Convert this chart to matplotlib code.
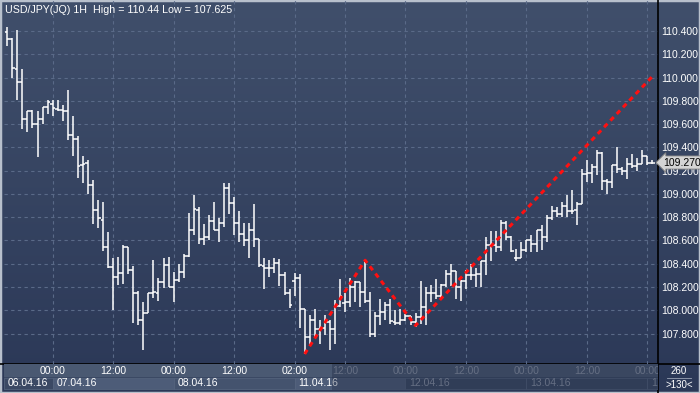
import numpy as np
import matplotlib
matplotlib.use("Agg")
import matplotlib.pyplot as plt
from matplotlib.patches import Rectangle

# hourly USD/JPY bars, 06.04.16 15:00 .. 13.04.16 23:00
opens = [110.39, 110.33, 110.07, 109.96, 109.64, 109.71, 109.60, 109.64, 109.75, 109.77,
         109.73, 109.72, 109.71, 109.51, 109.47, 109.25, 109.27, 109.08, 108.86, 108.78,
         108.54, 108.37, 108.29, 108.32, 108.54, 108.35, 108.15, 107.92, 107.98, 108.15,
         108.15, 108.24, 108.39, 108.20, 108.26, 108.33, 108.47, 108.69, 108.86, 108.61,
         108.63, 108.77, 108.69, 108.75, 109.05, 108.92, 108.75, 108.66, 108.60, 108.69,
         108.61, 108.38, 108.36, 108.36, 108.41, 108.30, 108.15, 108.25, 108.28, 108.01,
         107.77, 107.92, 107.84, 107.85, 107.90, 107.84, 108.04, 108.06, 108.07, 108.20,
         108.24, 108.16, 108.08, 107.80, 107.95, 107.99, 108.05, 107.90, 107.89, 107.92,
         107.95, 107.90, 107.94, 108.03, 108.15, 108.15, 108.12, 108.22, 108.31, 108.34,
         108.20, 108.25, 108.30, 108.30, 108.31, 108.42, 108.56, 108.56, 108.54, 108.75,
         108.63, 108.45, 108.45, 108.52, 108.60, 108.57, 108.69, 108.63, 108.79, 108.85,
         108.83, 108.90, 108.85, 108.86, 108.91, 109.17, 109.18, 109.23, 109.35, 109.11,
         109.10, 109.25, 109.21, 109.20, 109.26, 109.24, 109.26, 109.33, 109.27]
highs = [110.43, 110.34, 110.41, 110.07, 109.71, 109.72, 109.71, 109.75, 109.81, 109.81,
         109.81, 109.76, 109.89, 109.67, 109.50, 109.33, 109.29, 109.12, 108.95, 108.93,
         108.67, 108.45, 108.46, 108.56, 108.54, 108.38, 108.17, 108.07, 108.15, 108.43,
         108.28, 108.45, 108.46, 108.33, 108.40, 108.48, 108.84, 108.99, 108.89, 108.74,
         108.82, 108.93, 108.79, 109.09, 109.09, 108.97, 108.85, 108.75, 108.75, 108.91,
         108.61, 108.45, 108.43, 108.45, 108.44, 108.33, 108.18, 108.32, 108.31, 108.01,
         107.96, 108.01, 107.92, 107.96, 107.92, 108.09, 108.27, 108.15, 108.28, 108.25,
         108.24, 108.43, 108.16, 107.99, 108.10, 108.07, 108.10, 108.00, 108.01, 107.97,
         107.95, 107.98, 108.25, 108.20, 108.22, 108.27, 108.23, 108.35, 108.40, 108.34,
         108.26, 108.35, 108.40, 108.36, 108.42, 108.63, 108.68, 108.68, 108.78, 108.77,
         108.64, 108.53, 108.59, 108.60, 108.65, 108.69, 108.73, 108.82, 108.90, 108.89,
         108.93, 108.99, 109.03, 108.93, 109.21, 109.29, 109.26, 109.38, 109.36, 109.13,
         109.25, 109.40, 109.23, 109.31, 109.34, 109.31, 109.38, 109.33, 109.29]
lows = [110.27, 110.00, 109.81, 109.56, 109.53, 109.57, 109.32, 109.60, 109.69, 109.67,
        109.71, 109.63, 109.46, 109.33, 109.14, 109.09, 109.00, 108.74, 108.71, 108.51,
        108.36, 108.00, 108.22, 108.23, 108.31, 107.89, 107.87, 107.66, 107.98, 108.11,
        108.08, 108.19, 108.20, 108.07, 108.24, 108.28, 108.46, 108.65, 108.57, 108.56,
        108.60, 108.69, 108.59, 108.72, 108.83, 108.65, 108.59, 108.55, 108.45, 108.54,
        108.37, 108.18, 108.29, 108.32, 108.21, 108.13, 108.02, 108.12, 107.85, 107.625,
        107.70, 107.76, 107.71, 107.79, 107.66, 107.71, 108.03, 107.99, 108.03, 108.07,
        108.03, 108.06, 107.77, 107.77, 107.87, 107.92, 107.88, 107.87, 107.87, 107.91,
        107.87, 107.86, 107.88, 107.87, 108.07, 108.10, 108.10, 108.20, 108.21, 108.10,
        108.08, 108.18, 108.26, 108.20, 108.20, 108.30, 108.42, 108.50, 108.51, 108.60,
        108.50, 108.42, 108.45, 108.50, 108.50, 108.50, 108.52, 108.59, 108.78, 108.80,
        108.80, 108.80, 108.83, 108.73, 108.91, 109.10, 109.09, 109.16, 109.03, 109.00,
        109.05, 109.18, 109.16, 109.13, 109.22, 109.20, 109.26, 109.25, 109.26]
closes = [110.33, 110.08, 109.96, 109.64, 109.71, 109.60, 109.64, 109.75, 109.79, 109.74,
          109.72, 109.71, 109.51, 109.47, 109.24, 109.26, 109.08, 108.86, 108.79, 108.54,
          108.37, 108.29, 108.32, 108.54, 108.35, 108.15, 107.92, 107.98, 108.15, 108.16,
          108.24, 108.39, 108.20, 108.26, 108.33, 108.47, 108.69, 108.87, 108.61, 108.63,
          108.77, 108.69, 108.75, 109.05, 108.92, 108.75, 108.66, 108.60, 108.69, 108.61,
          108.39, 108.36, 108.36, 108.41, 108.30, 108.15, 108.05, 108.28, 108.01, 107.77,
          107.92, 107.84, 107.85, 107.90, 107.84, 108.04, 108.12, 108.07, 108.20, 108.24,
          108.16, 108.08, 107.80, 107.95, 107.99, 108.05, 107.91, 107.89, 107.92, 107.95,
          107.90, 107.94, 108.03, 108.15, 108.15, 108.12, 108.22, 108.31, 108.34, 108.20,
          108.25, 108.30, 108.30, 108.31, 108.42, 108.56, 108.56, 108.54, 108.75, 108.63,
          108.51, 108.45, 108.52, 108.60, 108.57, 108.69, 108.63, 108.79, 108.85, 108.83,
          108.90, 108.85, 108.85, 108.91, 109.17, 109.18, 109.23, 109.35, 109.11, 109.10,
          109.25, 109.21, 109.20, 109.26, 109.24, 109.26, 109.33, 109.27, 109.27]

# time axis: bar index of each label
time_idx = [9, 21, 33, 45, 57, 67, 79, 91, 103, 115, 127]
time_lbl = ["00:00", "12:00", "00:00", "12:00", "02:00", "12:00",
            "00:00", "12:00", "00:00", "12:00", "00:00"]
date_idx = [0, 9, 33, 57, 79, 103, 127]
date_lbl = ["06.04.16", "07.04.16", "08.04.16", "11.04.16", "12.04.16", "13.04.16", "14.04.16"]

# red dashed zig-zag / trend line (bar index, price)
trend_x = [59, 71, 81, 128]
trend_y = [107.625, 108.43, 107.87, 110.01]

price_ticks = [107.8, 108.0, 108.2, 108.4, 108.6, 108.8, 109.0, 109.2, 109.4,
               109.6, 109.8, 110.0, 110.2, 110.4]
last_price = 109.27

W, H = 700, 393
FONT = "Liberation Sans"
GRID = "#5a6a88"
WHITE = "#ffffff"

fig = plt.figure(figsize=(W / 100, H / 100), dpi=100)
fig.patch.set_facecolor("#2e3b59")

# background gradient over the whole window
bg = fig.add_axes([0, 0, 1, 1])
grad = np.linspace(0, 1, 256)[:, None]
top = np.array([0x40, 0x4f, 0x6b]) / 255
bot = np.array([0x2b, 0x38, 0x57]) / 255
img = top[None, None, :] * (1 - grad[:, :, None]) + bot[None, None, :] * grad[:, :, None]
bg.imshow(img, aspect="auto", extent=[0, 1, 0, 1])
bg.set_xlim(0, 1)
bg.set_ylim(0, 1)
bg.axis("off")

x_lo, x_hi = -0.65, 129.1
y_lo, y_hi = 107.539, 110.666

ax = fig.add_axes([4 / W, 29 / H, 654 / W, 364 / H])
ax.set_facecolor("none")
ax.set_xlim(x_lo, x_hi)
ax.set_ylim(y_lo, y_hi)

idx = np.arange(len(opens))
ax.vlines(idx, lows, highs, color=WHITE, lw=1.1, zorder=3)
ax.hlines(opens, idx - 0.5, idx, color=WHITE, lw=1.1, zorder=3)
ax.hlines(closes, idx, idx + 0.5, color=WHITE, lw=1.1, zorder=3)

ax.plot(trend_x, trend_y, color="#ff1010", lw=2.2, dashes=(1.6, 1.4), zorder=4)

# last price marker after final bar
ax.hlines(last_price, idx[-1] + 0.8, x_hi, color=WHITE, lw=1, linestyles=(0, (1, 1)), zorder=3)

ax.set_xticks(time_idx)
ax.set_xticklabels([])
ax.set_yticks(price_ticks)
ax.yaxis.tick_right()
ax.set_yticklabels(["%.3f" % p for p in price_ticks], fontsize=7.5, family=FONT, color=WHITE)
ax.tick_params(length=0, pad=2.5)
ax.tick_params(axis="x", length=0)
ax.grid(True, color=GRID, lw=0.8, linestyle=(0, (3, 3)))
for s in ax.spines.values():
    s.set_visible(False)

ax.text(0.002, 0.985, "USD/JPY(JQ) 1H  High = 110.44 Low = 107.625", transform=ax.transAxes,
        ha="left", va="top", fontsize=7.7, family=FONT, color=WHITE)

# price tag on the right scale
fig.text(663 / W, 1 - 162.5 / H, "%.3f" % last_price, ha="left", va="center", fontsize=7.5,
         family=FONT, color="black",
         bbox=dict(boxstyle="larrow,pad=0.15", fc="#d4d4d4", ec="#808080", lw=0.6))

# bottom time / date panel
bx = fig.add_axes([4 / W, 3 / H, 654 / W, 26 / H])
bx.set_xlim(x_lo, x_hi)
bx.set_ylim(0, 2)
bx.axis("off")
bx.add_patch(Rectangle((x_lo, 1), x_hi - x_lo, 1, fc="#4a5972", ec="none"))
bx.add_patch(Rectangle((x_lo, 0), x_hi - x_lo, 1, fc="#3b4964", ec="none"))
shade = ["#3b4964", "#4d5c78", "#44536e", "#4d5c78", "#3b4964", "#3b4964", "#3b4964"]
for k, (d, lbl) in enumerate(zip(date_idx, date_lbl)):
    end = date_idx[k + 1] if k + 1 < len(date_idx) else x_hi
    start = d if k > 0 else x_lo
    bx.add_patch(Rectangle((start, 0.04), end - start, 0.92, fc=shade[k], ec="#56657f", lw=0.5))
    # the last date only peeks in at the right edge
    shown = lbl if k + 1 < len(date_idx) else lbl[:1]
    bx.text(start + 0.8, 0.5, shown, ha="left", va="center", fontsize=7.5, family=FONT,
            color=WHITE if k < 4 else "#8c95a8", clip_on=True)
for t, lbl in zip(time_idx, time_lbl):
    bx.text(t, 1.5, lbl, ha="center", va="center", fontsize=7.5, family=FONT,
            color=WHITE if t < 64 else "#8c95a8", clip_on=True)
# dimmed part of the scale
bx.add_patch(Rectangle((64.5, 0), x_hi - 64.5, 2, fc="#1e2840", alpha=0.35, ec="none", zorder=5))

# corner box
fig.text(679 / W, 1 - 371 / H, "260", ha="center", va="center", fontsize=7, family=FONT, color=WHITE)
fig.text(679 / W, 1 - 384.5 / H, ">130<", ha="center", va="center", fontsize=7, family=FONT, color=WHITE)
bg.plot([667 / W, 691 / W], [1 - 377.5 / H, 1 - 377.5 / H], color="#9aa3b5", lw=0.6)

# separators and frame
bg.plot([658 / W, 658 / W], [0, 1], color="black", lw=1.2)
bg.plot([0, 1], [1 - 364 / H, 1 - 364 / H], color="black", lw=1.2)
bg.add_patch(Rectangle((0, 0), 1, 1, fill=False, ec="#b8c0cc", lw=2.5))

fig.savefig("out.png", dpi=100, facecolor=fig.get_facecolor())
